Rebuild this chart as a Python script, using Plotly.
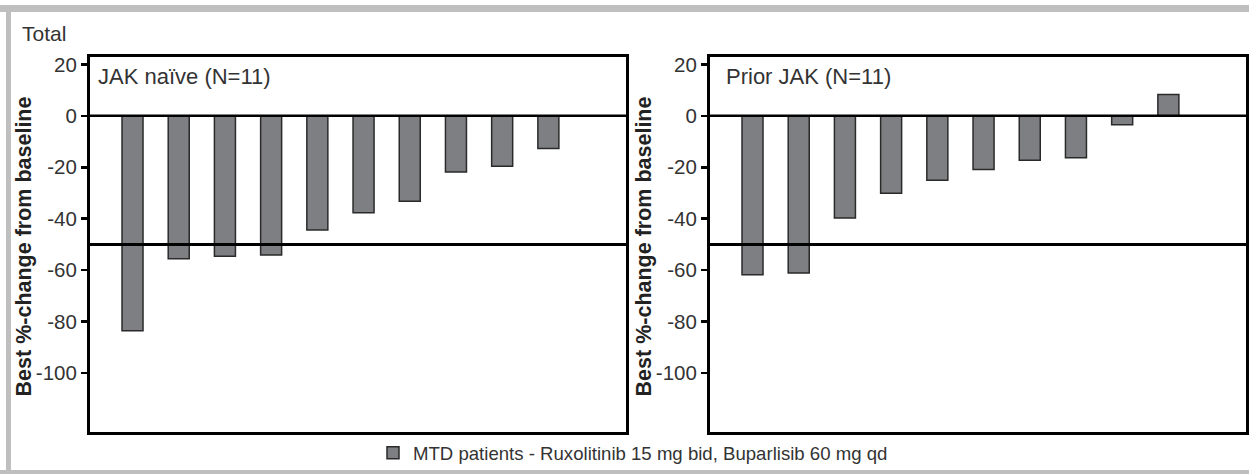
import plotly.graph_objects as go

W, H = 1249, 474

patients = list(range(1, 11))
jak_naive = [-83.6, -55.6, -54.6, -54.1, -44.4, -37.7, -33.2, -21.8, -19.6, -12.7]
prior_jak = [-61.8, -61.1, -39.7, -30.1, -25.0, -20.9, -17.3, -16.3, -3.5, 8.3]
y_ticks = [20, 0, -20, -40, -60, -80, -100]
y_tick_text = ["20", "0", "-20", "-40", "-60", "-80", "-100"]
legend_name = "MTD patients - Ruxolitinib 15 mg bid, Buparlisib 60 mg qd"
panel_labels = ["JAK naïve (N=11)", "Prior JAK (N=11)"]
y_title = "Best %-change from baseline"
ref_lines = [0, -50]

FONT = "Liberation Sans, Arial, sans-serif"
BAR_FILL = "#7e7f82"
BAR_LINE = "#2a2a2a"
TXT = "#333333"

def px(x):
    return x / W

def py(y):
    return 1 - y / H

fig = go.Figure()
fig.add_trace(go.Bar(x=patients, y=jak_naive, width=0.455, name=legend_name,
                     marker=dict(color=BAR_FILL, line=dict(color=BAR_LINE, width=1.5)),
                     xaxis="x", yaxis="y", showlegend=True))
fig.add_trace(go.Bar(x=patients, y=prior_jak, width=0.455, name=legend_name,
                     marker=dict(color=BAR_FILL, line=dict(color=BAR_LINE, width=1.5)),
                     xaxis="x2", yaxis="y2", showlegend=False))

ydom = [py(432), py(53)]
xcommon = dict(range=[0.08, 11.68], showticklabels=False, ticks="", showgrid=False,
               zeroline=False, showline=True, linewidth=3, linecolor="black", mirror=True,
               fixedrange=True)
ycommon = dict(range=[-123.1, 22.7], tickvals=y_ticks, ticktext=y_tick_text,
               ticks="outside", ticklen=6,
               tickwidth=2.5, tickcolor="black", showgrid=False, zeroline=False,
               showline=True, linewidth=3, linecolor="black", mirror=True,
               tickfont=dict(family=FONT, size=20.5, color=TXT), fixedrange=True)

fig.update_layout(
    width=W, height=H,
    margin=dict(l=0, r=0, t=0, b=0),
    paper_bgcolor="white", plot_bgcolor="white",
    xaxis=dict(domain=[px(90), px(626)], anchor="y", **xcommon),
    yaxis=dict(domain=ydom, anchor="x", **ycommon),
    xaxis2=dict(domain=[px(710), px(1246)], anchor="y2", **xcommon),
    yaxis2=dict(domain=ydom, anchor="x2", **ycommon),
    showlegend=True,
    legend=dict(orientation="h", x=px(373), xanchor="left", y=py(453), yanchor="middle",
                font=dict(family=FONT, size=18.6, color=TXT), bgcolor="rgba(0,0,0,0)"),
    bargap=0,
)

shapes = []
for xr, yr in [("x domain", "y"), ("x2 domain", "y2")]:
    for v in ref_lines:
        shapes.append(dict(type="line", xref=xr, yref=yr, x0=0, x1=1, y0=v, y1=v,
                           line=dict(color="black", width=2.5 if v == 0 else 3), layer="above"))
# outer gray frame
GR = "#bfbfbf"
shapes.append(dict(type="rect", xref="paper", yref="paper", x0=0, x1=1, y0=py(7), y1=1,
                   fillcolor=GR, line=dict(width=0), layer="below"))
shapes.append(dict(type="rect", xref="paper", yref="paper", x0=px(6), x1=px(11), y0=0, y1=1,
                   fillcolor=GR, line=dict(width=0), layer="below"))
shapes.append(dict(type="rect", xref="paper", yref="paper", x0=0, x1=1, y0=0, y1=py(470),
                   fillcolor=GR, line=dict(width=0), layer="below"))
fig.update_layout(shapes=shapes)

ann = [
    dict(text="Total", x=px(20), y=py(29), xanchor="left", yanchor="middle",
         font=dict(family=FONT, size=21, color=TXT)),
    dict(text=panel_labels[0], x=px(96), y=py(72), xanchor="left", yanchor="middle",
         font=dict(family=FONT, size=22, color=TXT)),
    dict(text=panel_labels[1], x=px(724), y=py(72), xanchor="left", yanchor="middle",
         font=dict(family=FONT, size=22, color=TXT)),
    dict(text="<b>" + y_title + "</b>", x=px(24), y=py(244), textangle=-90,
         xanchor="center", yanchor="middle", font=dict(family=FONT, size=21.5, color="#222222")),
    dict(text="<b>" + y_title + "</b>", x=px(644), y=py(244), textangle=-90,
         xanchor="center", yanchor="middle", font=dict(family=FONT, size=21.5, color="#222222")),
]
for a in ann:
    a.update(xref="paper", yref="paper", showarrow=False)
fig.update_layout(annotations=ann)

fig.write_html("out.html",
               config={"displayModeBar": False, "staticPlot": True},
               post_script="document.body.style.margin='0';document.body.style.overflow='hidden';")
